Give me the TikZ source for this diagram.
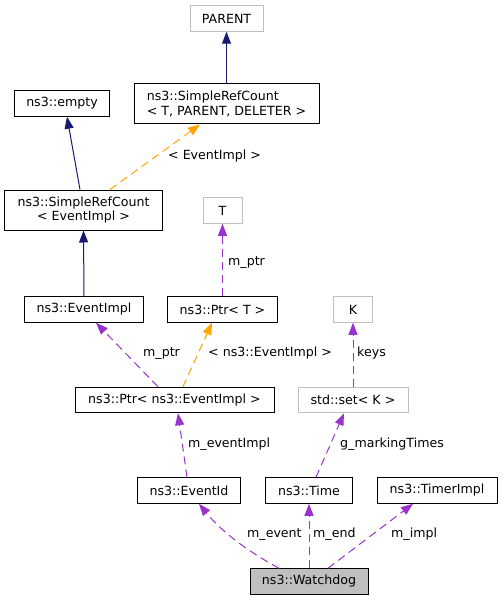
\documentclass[tikz,border=0pt]{standalone}
\usepackage{fontspec}
\setmainfont{DejaVu Sans}
\usetikzlibrary{arrows.meta}
\definecolor{navyc}{HTML}{191970}
\definecolor{purp}{HTML}{9A32CD}
\definecolor{orng}{HTML}{FFA500}
\definecolor{grayb}{HTML}{BFBFBF}
\begin{document}
\begin{tikzpicture}[x=1bp,y=-1bp,
 font=\fontsize{12.65}{14.8}\selectfont,
 box/.style={draw=black,line width=1bp,inner sep=0,minimum height=25.5bp},
 gbox/.style={draw=grayb,line width=1bp,inner sep=0,minimum height=25.5bp},
 lbl/.style={anchor=west,inner sep=0,text height=9.5bp,text depth=3bp},
 tip/.style={-{Triangle[length=12bp,width=9bp]}},
 inh/.style={draw=navyc,line width=1bp,tip},
 use/.style={draw=purp,line width=1bp,dash pattern=on 8bp off 5bp,tip},
 tmpl/.style={draw=orng,line width=1bp,dash pattern=on 8bp off 5bp,tip}
]
\useasboundingbox (0,0) rectangle (503,600);
% nodes
\node[gbox,minimum width=73bp] (parent) at (226.5,18.5) {PARENT};
\node[box,minimum width=185bp,minimum height=40bp,align=left] (srcT) at (226.5,104) {ns3::SimpleRefCount\\< T, PARENT, DELETER >};
\node[box,minimum width=94bp] (empty) at (62,103.5) {ns3::empty};
\node[box,minimum width=157bp,minimum height=40bp,align=center] (srcE) at (83.5,210) {ns3::SimpleRefCount\\< EventImpl >};
\node[gbox,minimum width=39bp] (T) at (222.5,210.5) {T};
\node[box,minimum width=119bp] (eimpl) at (84,309.5) {ns3::EventImpl};
\node[box,minimum width=110bp] (ptrT) at (222.5,309.5) {ns3::Ptr< T >};
\node[gbox,minimum width=39bp] (K) at (353,309.5) {K};
\node[box,minimum width=199bp] (ptrE) at (174.5,400) {ns3::Ptr< ns3::EventImpl >};
\node[gbox,minimum width=110bp] (setK) at (353,400) {std::set< K >};
\node[box,minimum width=103bp] (eid) at (189,490.5) {ns3::EventId};
\node[box,minimum width=87bp] (time) at (309,490.5) {ns3::Time};
\node[box,minimum width=120bp] (timer) at (437,490.5) {ns3::TimerImpl};
\node[box,fill=grayb,minimum width=118bp] (wd) at (309,581.5) {ns3::Watchdog};
% edges
\draw[inh] (srcT.north) -- (parent.south);
\draw[inh] ([xshift=-3.5bp]srcE.north) -- ([xshift=5bp]empty.south);
\draw[tmpl] ([xshift=26.5bp]srcE.north) -- ([xshift=-26.5bp]srcT.south);
\draw[inh] (eimpl.north) -- (srcE.south);
\draw[use] (ptrT.north) -- (T.south);
\draw[use] ([xshift=-16.5bp]ptrE.north) -- ([xshift=12bp]eimpl.south);
\draw[tmpl] ([xshift=8.5bp]ptrE.north) -- ([xshift=-10.5bp]ptrT.south);
\draw[use] (setK.north) -- (K.south);
\draw[use] ([xshift=-2bp]eid.north) -- ([xshift=3.5bp]ptrE.south);
\draw[use] ([xshift=7bp]time.north) -- ([xshift=-9bp]setK.south);
\draw[use] ([xshift=-30bp]wd.north) .. controls +(-24,-13) and +(26,32) .. ([xshift=10bp]eid.south);
\draw[use] (wd.north) -- (time.south);
\draw[use] ([xshift=19bp]wd.north) -- ([xshift=-24bp]timer.south);
% labels
\node[lbl] (l1) at (168,156) {< EventImpl >};
\node[lbl] (l2) at (228,262) {m\_ptr};
\node[lbl] (l3) at (143,353) {m\_ptr};
\node[lbl] (l4) at (208,353) {< ns3::EventImpl >};
\node[lbl] (l5) at (357,353) {keys};
\node[lbl] (l6) at (188,444) {m\_eventImpl};
\node[lbl] (l7) at (340,444) {g\_markingTimes};
\node[lbl] (l8) at (247,534) {m\_event};
\node[lbl] (l9) at (313,534) {m\_end};
\node[lbl] (l10) at (391,534) {m\_impl};
\end{tikzpicture}
\end{document}
